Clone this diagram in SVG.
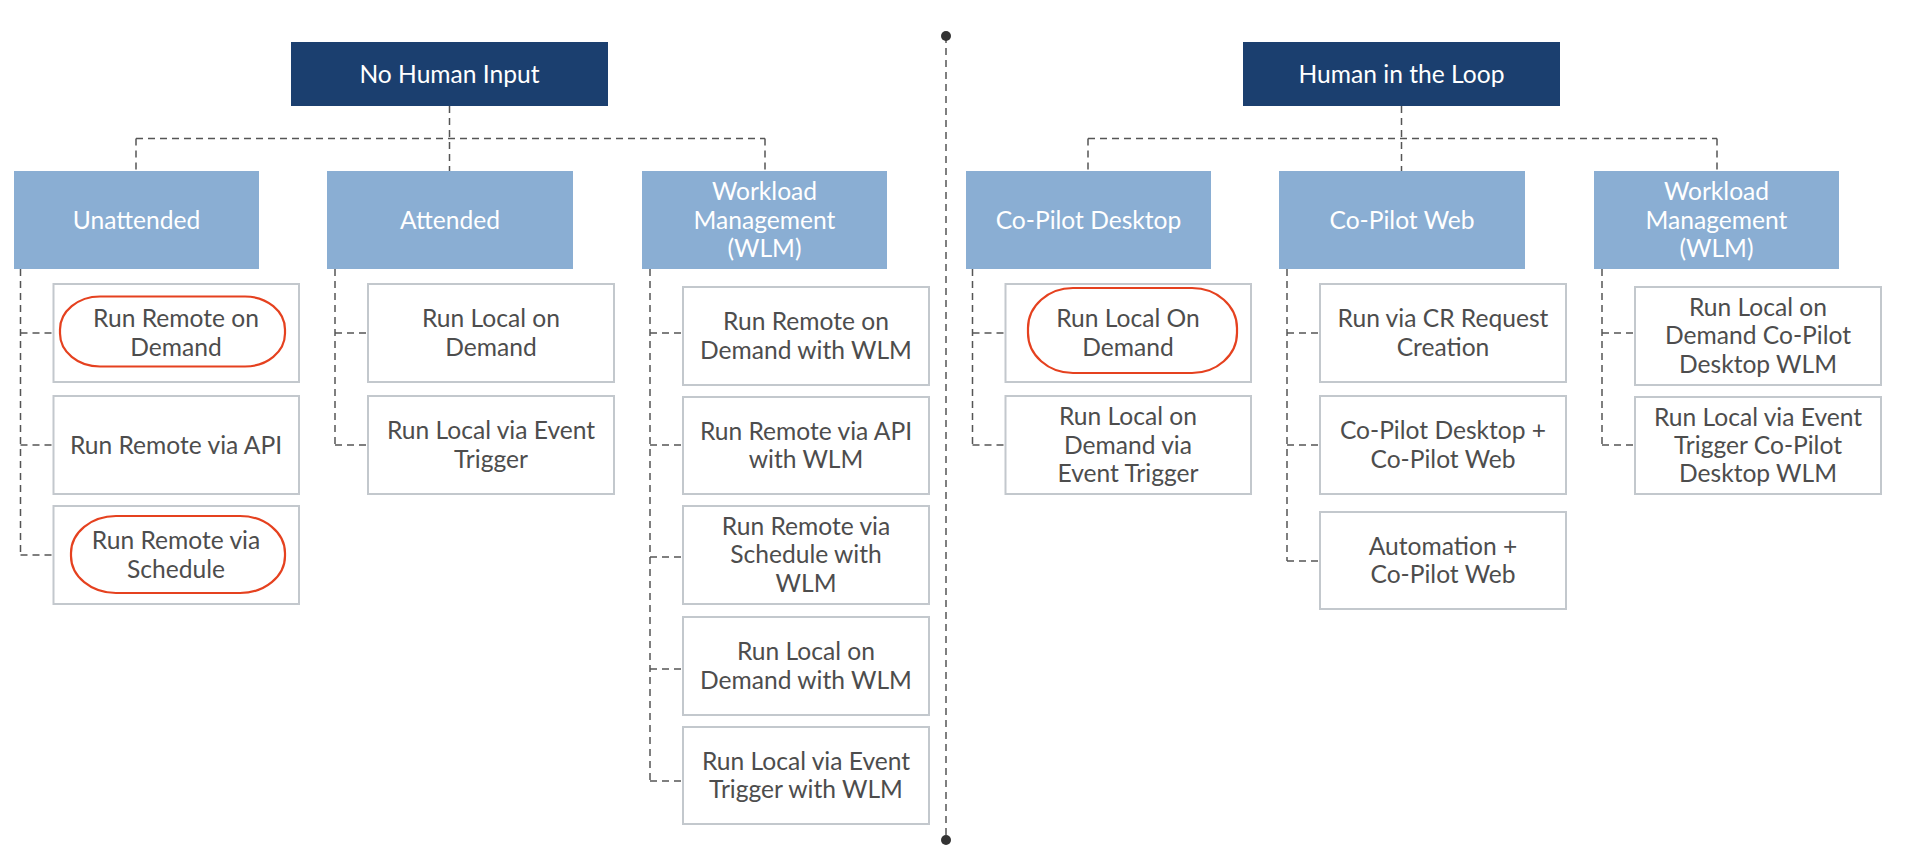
<svg xmlns="http://www.w3.org/2000/svg" width="1906" height="855" viewBox="0 0 1906 855">
<style>
.root{fill:#1b3f6f}
.cat{fill:#8aaed3}
.leaf{fill:#ffffff;stroke:#c3c8cd;stroke-width:2}
.ht{font-family:Lato,"Liberation Sans",sans-serif;font-size:24.6px;fill:#ffffff;text-anchor:middle}
.lt{font-family:Lato,"Liberation Sans",sans-serif;font-size:24.6px;fill:#4d4d4d;text-anchor:middle}
.dash{fill:none;stroke:#555555;stroke-width:1.5;stroke-dasharray:7 5}
.hl{fill:none;stroke:#e5411f;stroke-width:2.2}
</style>
<rect width="1906" height="855" fill="#ffffff"/>

<g id="connectors">
  <line class="dash" x1="946" y1="36" x2="946" y2="840"/>
  <circle cx="946" cy="36" r="5" fill="#333"/>
  <circle cx="946" cy="840" r="5" fill="#333"/>
  <path class="dash" d="M449.5 106 V171 M136 138.5 H765 M136 138.5 V171 M765 138.5 V171"/>
  <path class="dash" d="M20.5 269 V555 M20.5 333 H53.5 M20.5 445 H53.5 M20.5 555 H53.5"/>
  <path class="dash" d="M335 269 V445 M335 333 H368 M335 445 H368"/>
  <path class="dash" d="M650 269 V781 M650 333 H683 M650 445 H683 M650 557 H683 M650 669 H683 M650 781 H683"/>
  <path class="dash" d="M1401.5 106 V171 M1088 138.5 H1717 M1088 138.5 V171 M1717 138.5 V171"/>
  <path class="dash" d="M972.5 269 V445 M972.5 333 H1005.5 M972.5 445 H1005.5"/>
  <path class="dash" d="M1287 269 V561 M1287 333 H1320 M1287 445 H1320 M1287 561 H1320"/>
  <path class="dash" d="M1602 269 V445 M1602 333 H1635 M1602 445 H1635"/>
</g>

<g id="no-human-input">
  <rect class="root" x="291" y="42" width="317" height="64"/>
  <text class="ht" x="449.5" y="82.5">No Human Input</text>
</g>
<g id="unattended">
  <rect class="cat" x="14" y="171" width="245" height="98"/>
  <text class="ht" x="136.5" y="228.5">Unattended</text>
</g>
<g id="attended">
  <rect class="cat" x="327" y="171" width="246" height="98"/>
  <text class="ht" x="450" y="228.5">Attended</text>
</g>
<g id="wlm-left">
  <rect class="cat" x="642" y="171" width="245" height="98"/>
  <text class="ht" x="764.5" y="200.2">Workload<tspan x="764.5" dy="28.3">Management</tspan><tspan x="764.5" dy="28.3">(WLM)</tspan></text>
</g>

<g id="run-remote-on-demand">
  <rect class="leaf" x="53.5" y="284" width="245.5" height="98"/>
  <text class="lt" x="176" y="327.3">Run Remote on<tspan x="176" dy="28.3">Demand</tspan></text>
</g>
<g id="run-remote-via-api">
  <rect class="leaf" x="53.5" y="396" width="245.5" height="98"/>
  <text class="lt" x="176" y="453.5">Run Remote via API</text>
</g>
<g id="run-remote-via-schedule">
  <rect class="leaf" x="53.5" y="506" width="245.5" height="98"/>
  <text class="lt" x="176" y="549.3">Run Remote via<tspan x="176" dy="28.3">Schedule</tspan></text>
</g>

<g id="run-local-on-demand">
  <rect class="leaf" x="368" y="284" width="246" height="98"/>
  <text class="lt" x="491" y="327.3">Run Local on<tspan x="491" dy="28.3">Demand</tspan></text>
</g>
<g id="run-local-via-event-trigger">
  <rect class="leaf" x="368" y="396" width="246" height="98"/>
  <text class="lt" x="491" y="439.3">Run Local via Event<tspan x="491" dy="28.3">Trigger</tspan></text>
</g>

<g id="run-remote-on-demand-wlm">
  <rect class="leaf" x="683" y="287" width="246" height="98"/>
  <text class="lt" x="806" y="330.3">Run Remote on<tspan x="806" dy="28.3">Demand with WLM</tspan></text>
</g>
<g id="run-remote-via-api-wlm">
  <rect class="leaf" x="683" y="397" width="246" height="97"/>
  <text class="lt" x="806" y="439.8">Run Remote via API<tspan x="806" dy="28.3">with WLM</tspan></text>
</g>
<g id="run-remote-via-schedule-wlm">
  <rect class="leaf" x="683" y="506" width="246" height="98"/>
  <text class="lt" x="806" y="535">Run Remote via<tspan x="806" dy="28.3">Schedule with</tspan><tspan x="806" dy="28.3">WLM</tspan></text>
</g>
<g id="run-local-on-demand-wlm">
  <rect class="leaf" x="683" y="617" width="246" height="98"/>
  <text class="lt" x="806" y="660.3">Run Local on<tspan x="806" dy="28.3">Demand with WLM</tspan></text>
</g>
<g id="run-local-via-event-trigger-wlm">
  <rect class="leaf" x="683" y="727" width="246" height="97"/>
  <text class="lt" x="806" y="769.8">Run Local via Event<tspan x="806" dy="28.3">Trigger with WLM</tspan></text>
</g>

<g id="human-in-the-loop">
  <rect class="root" x="1243" y="42" width="317" height="64"/>
  <text class="ht" x="1401.5" y="82.5">Human in the Loop</text>
</g>
<g id="co-pilot-desktop">
  <rect class="cat" x="966" y="171" width="245" height="98"/>
  <text class="ht" x="1088.5" y="228.5">Co-Pilot Desktop</text>
</g>
<g id="co-pilot-web">
  <rect class="cat" x="1279" y="171" width="246" height="98"/>
  <text class="ht" x="1402" y="228.5">Co-Pilot Web</text>
</g>
<g id="wlm-right">
  <rect class="cat" x="1594" y="171" width="245" height="98"/>
  <text class="ht" x="1716.5" y="200.2">Workload<tspan x="1716.5" dy="28.3">Management</tspan><tspan x="1716.5" dy="28.3">(WLM)</tspan></text>
</g>

<g id="run-local-on-demand-cp">
  <rect class="leaf" x="1005.5" y="284" width="245.5" height="98"/>
  <text class="lt" x="1128" y="327.3">Run Local On<tspan x="1128" dy="28.3">Demand</tspan></text>
</g>
<g id="run-local-on-demand-via-event">
  <rect class="leaf" x="1005.5" y="396" width="245.5" height="98"/>
  <text class="lt" x="1128" y="425.2">Run Local on<tspan x="1128" dy="28.3">Demand via</tspan><tspan x="1128" dy="28.3">Event Trigger</tspan></text>
</g>

<g id="run-via-cr-request">
  <rect class="leaf" x="1320" y="284" width="246" height="98"/>
  <text class="lt" x="1443" y="327.3">Run via CR Request<tspan x="1443" dy="28.3">Creation</tspan></text>
</g>
<g id="co-pilot-desktop-web">
  <rect class="leaf" x="1320" y="396" width="246" height="98"/>
  <text class="lt" x="1443" y="439.3">Co-Pilot Desktop +<tspan x="1443" dy="28.3">Co-Pilot Web</tspan></text>
</g>
<g id="automation-co-pilot-web">
  <rect class="leaf" x="1320" y="512" width="246" height="97"/>
  <text class="lt" x="1443" y="555">Automation +<tspan x="1443" dy="28.3">Co-Pilot Web</tspan></text>
</g>

<g id="run-local-on-demand-cp-wlm">
  <rect class="leaf" x="1635" y="287" width="246" height="98"/>
  <text class="lt" x="1758" y="316">Run Local on<tspan x="1758" dy="28.3">Demand Co-Pilot</tspan><tspan x="1758" dy="28.3">Desktop WLM</tspan></text>
</g>
<g id="run-local-via-event-cp-wlm">
  <rect class="leaf" x="1635" y="397" width="246" height="97"/>
  <text class="lt" x="1758" y="425.7">Run Local via Event<tspan x="1758" dy="28.3">Trigger Co-Pilot</tspan><tspan x="1758" dy="28.3">Desktop WLM</tspan></text>
</g>

<g id="highlights">
  <rect class="hl" x="60" y="296.5" width="225" height="70" rx="40" ry="33"/>
  <rect class="hl" x="71" y="516" width="214" height="77" rx="45" ry="37"/>
  <rect class="hl" x="1028" y="288" width="209" height="85" rx="45" ry="40"/>
</g>
</svg>
